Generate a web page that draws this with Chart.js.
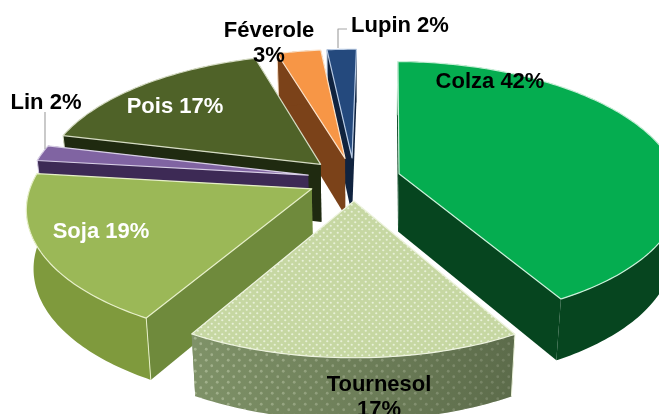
<!DOCTYPE html>
<html><head><meta charset="utf-8">
<style>html,body{margin:0;padding:0;background:#fff}canvas{display:block}</style>
<script src="https://cdn.jsdelivr.net/npm/chart.js@4"></script>
</head><body><canvas id="c" width="659" height="414"></canvas>
<script>
const categories = ["Colza","Tournesol","Soja","Lin","Pois","Féverole","Lupin"];
const values = [42.5,17,19,2,17,3,2];
const topColors = ["#05ad50","#c6d7a2","#9bb857","#8064a2","#4f6228","#f79646","#24497d"];
const endWallColors = ["#06451f","#7f9268","#6f8a3c","#3d2a55","#1f2a10","#7b4219","#10233f"];
const rimColors = ["#06451f","#7f9268","#7f9a3d","#3d2a55","#1f2a10","#7b4219","#10233f"];
const edgeColors = ["#c8f0d8","#eef4df","#e6efc8","#d8cfe6","#d6dcc4","#fbe3cc","#b9cbe4"];
const labelColors = ["#000","#000","#fff","#000","#fff","#000","#000"];
const labelLines = [["Colza 42%"],["Tournesol","17%"],["Soja 19%"],["Lin 2%"],["Pois 17%"],["Féverole","3%"],["Lupin 2%"]];
const labelAt = [[490,82],[379,385],[101,232],[46,103],[175,107],[269,31],[400,26]];
const leaders = [[[45,112],[45,149]],[[347,29],[338,29],[338,48]]];

const view = {ox:354,oy:179,a:279,b:128.8,p:0.136,d:58,q:0.022,step:Math.PI/180};
function project(X,Y,z){
  const s = 1/(1-view.p*Y), zs = 1-view.q*z;
  return [view.ox+view.a*X*s*zs, view.oy+view.b*Y*s+view.d*z*(1+0.07*Y)];
}
function dotPattern(base,dot,gap,r){
  const c=document.createElement('canvas'); c.width=c.height=gap;
  const g=c.getContext('2d'); g.fillStyle=base; g.fillRect(0,0,gap,gap);
  g.fillStyle=dot;
  for(const [x,y] of [[gap/4,gap/4],[3*gap/4,3*gap/4]]){g.beginPath();g.arc(x,y,r,0,7);g.fill();}
  return g.createPattern(c,'repeat');
}
const pie3d = {
  id:'pie3d',
  beforeDatasetsDraw(chart){
    const ctx=chart.ctx, arcs=chart.getDatasetMeta(0).data;
    const topDots=dotPattern(topColors[1],"#e8f0d8",7,1.1), wallDots=dotPattern(rimColors[1],"#a4b38e",11,1.4);
    const items=arcs.map((el,i)=>{
      const g=el.getProps(['startAngle','endAngle','outerRadius']);
      const mid=(g.startAngle+g.endAngle)/2, e=el.options.offset/g.outerRadius;
      return {i,s:g.startAngle,t:g.endAngle,cx:Math.cos(mid)*e,cy:Math.sin(mid)*e,my:Math.sin(mid)};
    }).sort((u,v)=>u.my-v.my);
    ctx.save(); ctx.lineJoin='round';
    for(const it of items){
      const P=(ang,r,z)=>project(it.cx+Math.cos(ang)*r,it.cy+Math.sin(ang)*r,z);
      const rim=[]; for(let a=it.s;a<it.t;a+=view.step) rim.push(a); rim.push(it.t);
      const poly=(pts,fill)=>{ctx.beginPath();pts.forEach((p,k)=>k?ctx.lineTo(p[0],p[1]):ctx.moveTo(p[0],p[1]));ctx.closePath();ctx.fillStyle=fill;ctx.fill();};
      const line=(pts,col,w)=>{ctx.beginPath();pts.forEach((p,k)=>k?ctx.lineTo(p[0],p[1]):ctx.moveTo(p[0],p[1]));ctx.strokeStyle=col;ctx.lineWidth=w;ctx.stroke();};
      const isT=it.i===1;
      const wall=(ang)=>[P(ang,0,0),P(ang,1,0),P(ang,1,1),P(ang,0,1)];
      poly(wall(it.t),isT?wallDots:endWallColors[it.i]);
      poly(wall(it.s),isT?wallDots:endWallColors[it.i]);
      const outer=[...rim.map(a=>P(a,1,0)),...rim.slice().reverse().map(a=>P(a,1,1))];
      poly(outer,isT?wallDots:rimColors[it.i]);
      if(isT){
        const gr=ctx.createLinearGradient(P(it.t,1,0)[0],0,P(it.s,1,0)[0],0);
        gr.addColorStop(0,'rgba(40,50,30,0)');gr.addColorStop(1,'rgba(40,50,30,.4)');
        poly(outer,gr);
      }
      line([P(it.s,1,0),P(it.s,1,1)],edgeColors[it.i],1);
      const top=[P(it.s,0,0),...rim.map(a=>P(a,1,0))];
      poly(top,isT?topDots:topColors[it.i]);
      ctx.beginPath();top.forEach((p,k)=>k?ctx.lineTo(p[0],p[1]):ctx.moveTo(p[0],p[1]));ctx.closePath();
      ctx.strokeStyle=edgeColors[it.i];ctx.lineWidth=1.2;ctx.stroke();
    }
    ctx.strokeStyle='#a6a6a6';ctx.lineWidth=1.2;
    for(const l of leaders){ctx.beginPath();l.forEach((p,k)=>k?ctx.lineTo(p[0],p[1]):ctx.moveTo(p[0],p[1]));ctx.stroke();}
    ctx.font='bold 22px "Liberation Sans", Arial, sans-serif';
    ctx.textAlign='center';ctx.textBaseline='middle';
    labelLines.forEach((ls,i)=>{
      ctx.fillStyle=labelColors[i];
      ls.forEach((t,k)=>ctx.fillText(t,labelAt[i][0],labelAt[i][1]+k*25));
    });
    ctx.restore();
    return false;
  }
};
new Chart(document.getElementById('c'),{
  type:'pie',
  data:{labels:categories,datasets:[{data:values,backgroundColor:topColors,borderWidth:0,offset:32}]},
  options:{responsive:false,animation:false,rotation:1,
    plugins:{legend:{display:false},tooltip:{enabled:false}}},
  plugins:[pie3d]
});
</script></body></html>
